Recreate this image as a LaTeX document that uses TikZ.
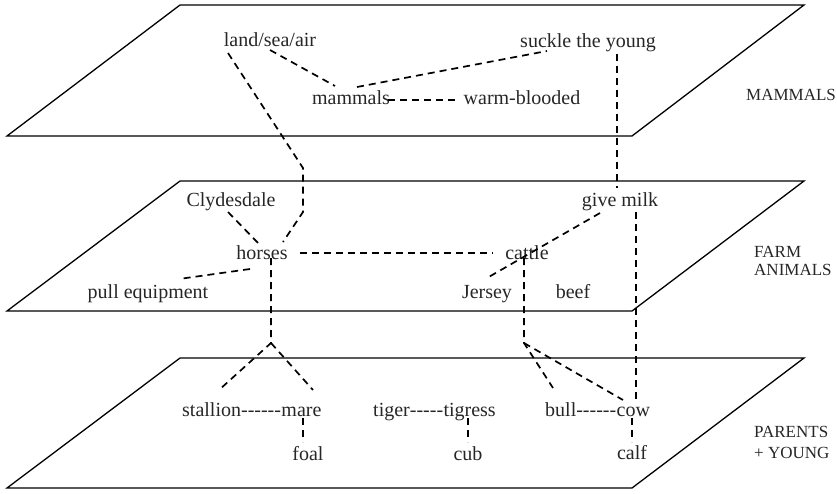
\documentclass[tikz,border=0pt]{standalone}
\usepackage{fontspec}
\setmainfont{Liberation Serif}
% a plain hyphen that never merges into an en or em dash
\newcommand\hyph{\mbox{-}}
\begin{document}
\begin{tikzpicture}[x=1pt,y=-1pt,
  plane/.style={draw=black, line width=1.3pt, line join=miter},
  link/.style={draw=black, line width=1.7pt, dash pattern=on 7pt off 5pt},
  term/.style={inner sep=0pt, anchor=base, text=black!85, font=\fontsize{20}{24}\selectfont},
  level/.style={inner sep=0pt, anchor=base west, text=black!85, font=\fontsize{17}{18}\selectfont}]
\useasboundingbox (0,0) rectangle (837,493);

% three stacked planes
\draw[plane] (180,5)   -- (804,5)   -- (632,136) -- (7,136) -- cycle;
\draw[plane] (180,181) -- (804,181) -- (632,311) -- (7,311) -- cycle;
\draw[plane] (180,358) -- (804,358) -- (632,488) -- (7,488) -- cycle;

% level names
\node[level] (lvmam)  at (746,100) {MAMMALS};
\node[level] (lvfarm) at (754,257) {FARM};
\node[level] (lvanim) at (754,275) {ANIMALS};
\node[level] (lvpar)  at (754,437) {PARENTS};
\node[level] (lvyng)  at (754,458) {+ YOUNG};

% mammals plane
\node[term] (lsa)     at (270,46)  {land/sea/air};
\node[term] (suckle)  at (588,47)  {suckle the young};
\node[term] (mammals) at (351,104) {mammals};
\node[term] (warm)    at (522,104) {warm-blooded};

% farm animals plane
\node[term] (clyde)   at (231,206) {Clydesdale};
\node[term] (milk)    at (620,206) {give milk};
\node[term] (horses)  at (262,259) {horses};
\node[term] (cattle)  at (527,259) {cattle};
\node[term] (pull)    at (148,298) {pull equipment};
\node[term] (jersey)  at (487,298) {Jersey};
\node[term] (beef)    at (573,298) {beef};

% parents + young plane
\node[term, anchor=base west] (stallion) at (182,416) {stallion\hyph\hyph\hyph\hyph\hyph\hyph};
\node[term, anchor=base west] (mare)     at (stallion.base east) {mare};
\node[term, anchor=base west] (tiger)    at (373,416) {tiger\hyph\hyph\hyph\hyph\hyph};
\node[term, anchor=base west] (tigress)  at (tiger.base east) {tigress};
\node[term, anchor=base west] (bull)     at (545,416) {bull\hyph\hyph\hyph\hyph\hyph\hyph};
\node[term, anchor=base west] (cow)      at (bull.base east) {cow};
\node[term] (foal) at (308,460) {foal};
\node[term] (cub)  at (468,460) {cub};
\node[term] (calf) at (632,459) {calf};

% connector ends and bends
\coordinate (lsa-m)   at (270,50);
\coordinate (mam-l)   at (335,86);
\coordinate (mam-s)   at (357,87);
\coordinate (suc-m)   at (547,51);
\coordinate (mam-w)   at (388,100);
\coordinate (warm-m)  at (457,100);
\coordinate (lsa-h)   at (228,53);
\coordinate (lsa-b1)  at (303,168);
\coordinate (lsa-b2)  at (303,212);
\coordinate (hor-l)   at (283,242);
\coordinate (suc-g)   at (617,54);
\coordinate (milk-s)  at (617,188);
\coordinate (cly-h)   at (228,212);
\coordinate (hor-c)   at (260,245);
\coordinate (hor-p)   at (250,269);
\coordinate (pull-h)  at (179,279);
\coordinate (hor-ca)  at (300,253);
\coordinate (cat-h)   at (493,253);
\coordinate (milk-j)  at (600,213);
\coordinate (jer-m)   at (487,278);
\coordinate (milk-c)  at (636,212);
\coordinate (cow-m)   at (636,402);
\coordinate (hor-d)   at (271,258);
\coordinate (hor-fork) at (271,343);
\coordinate (stal-h)  at (219,390);
\coordinate (mare-h)  at (313,390);
\coordinate (cat-d)   at (524,258);
\coordinate (cat-fork) at (524,343);
\coordinate (bull-c)  at (553,388);
\coordinate (cow-c)   at (623,400);
\coordinate (mare-f)  at (303,418);
\coordinate (foal-m)  at (303,442);
\coordinate (tig-c)   at (468,418);
\coordinate (cub-t)   at (468,442);
\coordinate (cow-ca)  at (632,418);
\coordinate (calf-c)  at (632,442);

% links
\draw[link] (lsa-m) -- (mam-l);
\draw[link] (mam-s) -- (suc-m);
\draw[link] (mam-w) -- (warm-m);
\draw[link] (lsa-h) -- (lsa-b1) -- (lsa-b2) -- (hor-l);
\draw[link] (suc-g) -- (milk-s);
\draw[link] (cly-h) -- (hor-c);
\draw[link] (hor-p) -- (pull-h);
\draw[link] (hor-ca) -- (cat-h);
\draw[link] (milk-j) -- (jer-m);
\draw[link] (milk-c) -- (cow-m);
\draw[link] (hor-d) -- (hor-fork) -- (stal-h);
\draw[link] (hor-fork) -- (mare-h);
\draw[link] (cat-d) -- (cat-fork) -- (bull-c);
\draw[link] (cat-fork) -- (cow-c);
\draw[link] (mare-f) -- (foal-m);
\draw[link] (tig-c) -- (cub-t);
\draw[link] (cow-ca) -- (calf-c);
\end{tikzpicture}
\end{document}
